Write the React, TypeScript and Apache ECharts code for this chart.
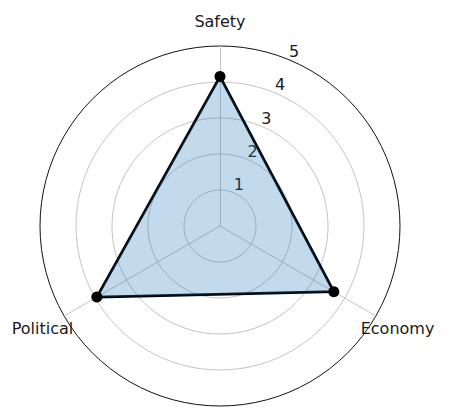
import React, { useEffect, useRef } from "react";
import * as echarts from "echarts";

const indicators = ["Safety", "Political", "Economy"];
const values = [4.15, 3.95, 3.65];
const radialMax = 5;
const radialTicks = [1, 2, 3, 4, 5];

export default function App() {
  const ref = useRef<HTMLDivElement>(null);
  useEffect(() => {
    if (!ref.current) return;
    const chart = echarts.init(ref.current, undefined, { renderer: "svg" });
    const font = "DejaVu Sans";
    chart.setOption({
      animation: false,
      backgroundColor: "#ffffff",
      radar: [
        {
          center: [220, 226],
          radius: 180,
          startAngle: 90,
          shape: "circle",
          splitNumber: radialTicks.length,
          indicator: indicators.map((n) => ({ name: n, min: 0, max: radialMax })),
          axisName: {
            color: "#1a1a1a",
            fontFamily: font,
            fontSize: 16,
            align: "center",
            verticalAlign: "middle",
          },
          nameGap: 25,
          axisLine: { show: true, lineStyle: { color: "#c4c4c4", width: 1 } },
          axisTick: { show: false },
          axisLabel: { show: false },
          splitArea: { show: false },
          splitLine: {
            show: true,
            lineStyle: {
              color: ["#c4c4c4", "#c4c4c4", "#c4c4c4", "#c4c4c4", "#c4c4c4", "#111111"],
              width: 1,
            },
          },
        },
        {
          center: [220, 226],
          radius: 180,
          startAngle: 67.5,
          shape: "circle",
          splitNumber: radialTicks.length,
          indicator: [{ name: "", min: 0, max: radialMax }],
          axisName: { show: false },
          axisLine: { show: false },
          axisTick: { show: false },
          splitArea: { show: false },
          splitLine: { show: false },
          axisLabel: {
            show: true,
            margin: 0,
            rotate: 0,
            align: "left",
            verticalAlign: "bottom",
            color: "#1a1a1a",
            fontFamily: font,
            fontSize: 16,
            formatter: (v: number) => (radialTicks.includes(Number(v)) ? String(v) : ""),
          },
        },
      ],
      series: [
        {
          type: "radar",
          radarIndex: 0,
          symbol: "circle",
          symbolSize: 11,
          lineStyle: { color: "#000000", width: 2.8 },
          itemStyle: { color: "#000000" },
          areaStyle: { color: "#1f77b4", opacity: 0.27 },
          data: [{ value: values, name: "score" }],
        },
      ],
    });
    return () => chart.dispose();
  }, []);
  return (
    <div
      ref={ref}
      style={{ position: "fixed", left: 0, top: 0, width: 449, height: 412 }}
    />
  );
}
